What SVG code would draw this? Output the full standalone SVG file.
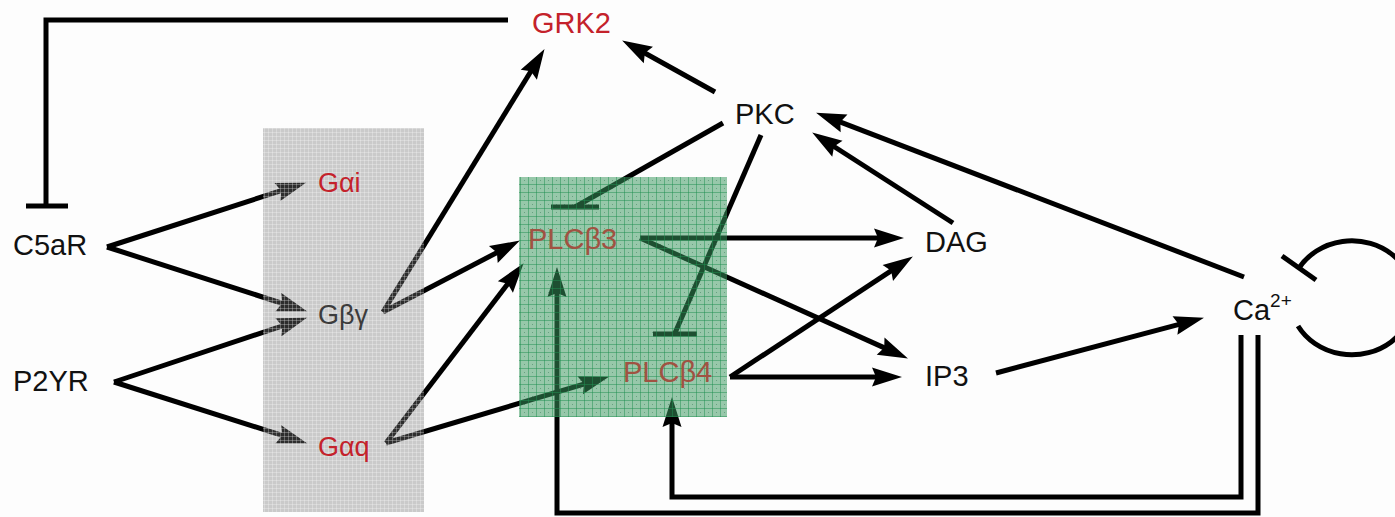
<svg xmlns="http://www.w3.org/2000/svg" width="1395" height="517" viewBox="0 0 1395 517">
  <style>
    .lbl { font-family: "Liberation Sans", Arial, sans-serif; font-size: 29px; fill: #111; }
    .red { fill: #c4222b; }
    .gp { font-size: 27px; }
    .plc { fill: #a05242; }
    .grey { fill: #3c3c3c; }
    .edge { fill: none; stroke: #000; stroke-width: 5; stroke-linejoin: miter; }
    .arrow { marker-end: url(#head); }
  </style>
  <defs>
    <marker id="head" markerUnits="userSpaceOnUse" markerWidth="30" markerHeight="19" refX="17" refY="9.5" orient="auto" overflow="visible">
      <path d="M0,0 L30,9.5 L0,19 L4,9.5 z" fill="#000"/>
    </marker>
    <pattern id="fineGrid" width="4" height="4" patternUnits="userSpaceOnUse">
      <rect width="4" height="4" fill="#777777" fill-opacity="0.38"/>
      <path d="M0,0.5 H4 M0.5,0 V4" stroke="#ffffff" stroke-opacity="0.28" stroke-width="1"/>
    </pattern>
    <pattern id="greenGrid" width="8" height="8" patternUnits="userSpaceOnUse">
      <rect width="8" height="8" fill="#39975e" fill-opacity="0.52"/>
      <path d="M0,0.5 H8 M0.5,0 V8" stroke="#1f8f52" stroke-opacity="0.5" stroke-width="1"/>
      <rect x="4" y="4" width="1" height="1" fill="#0f5a35" fill-opacity="0.35"/>
    </pattern>
  </defs>

  <rect width="1395" height="517" fill="#fdfdfd"/>

  <!-- connectors -->
  <g id="connectors">
    <!-- GRK2 inhibits C5aR -->
    <path class="edge" d="M508,20 H46 V206"/>
    <path class="edge" d="M26,206 H68" stroke-width="6"/>

    <!-- receptors to G proteins -->
    <line class="edge arrow" x1="107" y1="247" x2="293.6" y2="186.7"/>
    <line class="edge arrow" x1="107" y1="247" x2="294.6" y2="307.3"/>
    <line class="edge arrow" x1="114" y1="382" x2="294.6" y2="321.8"/>
    <line class="edge arrow" x1="114" y1="382" x2="294.6" y2="439.4"/>

    <!-- G proteins to effectors -->
    <line class="edge arrow" x1="383" y1="312" x2="537.7" y2="60.2"/>
    <line class="edge arrow" x1="383" y1="312" x2="508.4" y2="246.6"/>
    <line class="edge arrow" x1="386" y1="443" x2="515.7" y2="273.5"/>
    <line class="edge arrow" x1="386" y1="443" x2="596.5" y2="380.4"/>

    <!-- PKC to GRK2 -->
    <line class="edge arrow" x1="715" y1="92" x2="633.5" y2="46.8"/>

    <!-- PKC inhibits PLCb3 / PLCb4 -->
    <line class="edge" x1="723" y1="123" x2="575" y2="207"/>
    <path class="edge" d="M551,207 H599" stroke-width="6"/>
    <line class="edge" x1="761" y1="135" x2="675" y2="333"/>
    <path class="edge" d="M653,334 H697" stroke-width="6"/>

    <!-- PLC products -->
    <line class="edge arrow" x1="640" y1="238" x2="891" y2="238"/>
    <line class="edge arrow" x1="640" y1="238" x2="896.1" y2="353.1"/>
    <line class="edge arrow" x1="730" y1="377" x2="889" y2="377"/>
    <line class="edge arrow" x1="730" y1="377" x2="902" y2="263.6"/>

    <!-- to PKC -->
    <line class="edge arrow" x1="953" y1="223" x2="823.1" y2="139.5"/>
    <line class="edge arrow" x1="1244" y1="277" x2="828.2" y2="117.3"/>

    <!-- IP3 to Ca2+ -->
    <line class="edge arrow" x1="996" y1="373" x2="1191.4" y2="321.1"/>

    <!-- Ca2+ feedback to PLCs -->
    <path class="edge arrow" d="M1241,335 V497 H672 V410"/>
    <path class="edge arrow" d="M1258,335 V513 H557 V280"/>

    <!-- Ca2+ self inhibition -->
    <path class="edge" d="M1298,326 A62,57 0 1 0 1299,268"/>
    <path class="edge" d="M1282,256 L1316,280" stroke-width="6"/>
  </g>

  <!-- shaded compartments -->
  <rect id="gprotein-band" x="263" y="128" width="161" height="384" fill="url(#fineGrid)"/>
  <rect id="plc-band" x="519" y="177" width="208" height="240" fill="url(#greenGrid)"/>

  <!-- nodes -->
  <g id="GRK2"><text class="lbl red" x="532" y="33">GRK2</text></g>
  <g id="PKC"><text class="lbl" x="735" y="124">PKC</text></g>
  <g id="C5aR"><text class="lbl" x="13" y="255">C5aR</text></g>
  <g id="P2YR"><text class="lbl" x="13" y="391">P2YR</text></g>
  <g id="Gai"><text class="lbl gp red" x="318" y="192">Gαi</text></g>
  <g id="Gbg"><text class="lbl gp grey" x="318" y="324">Gβγ</text></g>
  <g id="Gaq"><text class="lbl gp red" x="318" y="456">Gαq</text></g>
  <g id="PLCb3"><text class="lbl plc" x="528" y="249">PLCβ3</text></g>
  <g id="PLCb4"><text class="lbl plc" x="623" y="382">PLCβ4</text></g>
  <g id="DAG"><text class="lbl" x="925" y="252">DAG</text></g>
  <g id="IP3"><text class="lbl" x="925" y="386">IP3</text></g>
  <g id="Ca"><text class="lbl" x="1233" y="320">Ca<tspan font-size="19" dy="-13">2+</tspan></text></g>
</svg>
